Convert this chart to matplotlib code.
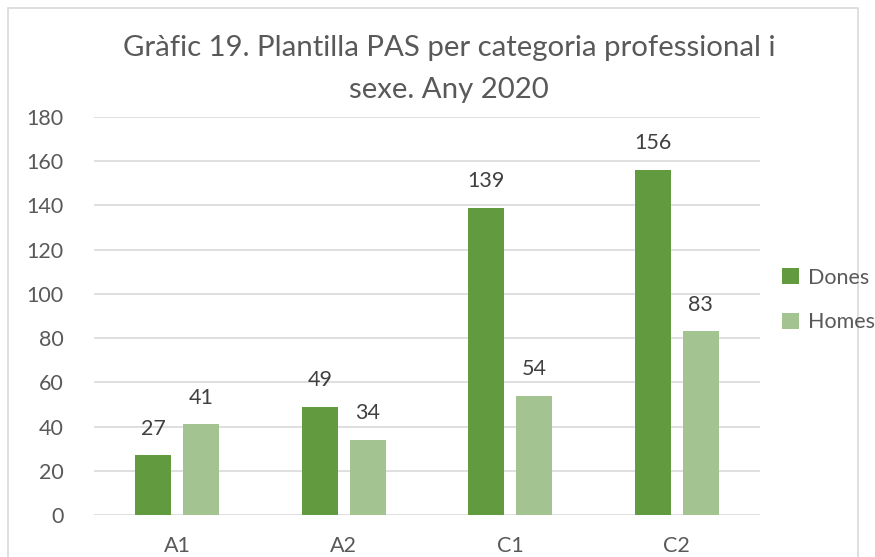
import numpy as np
import matplotlib.pyplot as plt
from matplotlib.patches import Rectangle

# data
categories = ["A1", "A2", "C1", "C2"]
dones = [27, 49, 139, 156]
homes = [41, 34, 54, 83]
y_ticks = [0, 20, 40, 60, 80, 100, 120, 140, 160, 180]

plt.rcParams['font.family'] = ['Lato', 'DejaVu Sans']
text_color = '#595959'
label_color = '#404040'

fig = plt.figure(figsize=(8.75, 5.57), dpi=100)
ax = fig.add_axes([94 / 875, 1 - 515 / 557, 666 / 875, 398 / 557])

# outer chart border
fig.patches.append(Rectangle((8 / 875, -0.05), 850 / 875, 1 - 8 / 557 + 0.05,
                             transform=fig.transFigure, fill=False,
                             edgecolor='#d9d9d9', linewidth=1.2))

# grouped bars
x = np.arange(len(categories))
w = 0.216
off = 0.144
b1 = ax.bar(x - off, dones, w, color='#629b3f', label='Dones', zorder=3)
b2 = ax.bar(x + off, homes, w, color='#a3c490', label='Homes', zorder=3)

# value labels above bars
for bars in (b1, b2):
    for rect in bars:
        h = rect.get_height()
        ax.annotate(str(int(h)), (rect.get_x() + rect.get_width() / 2, h),
                    xytext=(0, 12), textcoords='offset points',
                    ha='center', va='bottom', fontsize=15.5, color=label_color)

ax.set_xlim(-0.5, len(categories) - 0.5)
ax.set_ylim(0, 180)
ax.set_yticks(y_ticks)
ax.set_xticks(x)
ax.set_xticklabels(categories)
ax.tick_params(axis='both', length=0, labelsize=15.5, labelcolor=text_color)
ax.tick_params(axis='x', pad=15)
ax.tick_params(axis='y', pad=22)
ax.grid(axis='y', color='#d9d9d9', linewidth=1.2, zorder=0)
for s in ax.spines.values():
    s.set_visible(False)

# title, two lines
fig.text(449 / 875, 1 - 48 / 557, "Gràfic 19. Plantilla PAS per categoria professional i",
         ha='center', va='center', fontsize=21.2, color=text_color)
fig.text(449 / 875, 1 - 90 / 557, "sexe. Any 2020",
         ha='center', va='center', fontsize=21.2, color=text_color)

fig.legend(handles=[b1, b2], loc='center left',
           bbox_to_anchor=(763 / 875, 1 - 300 / 557), frameon=False,
           fontsize=15.5, labelcolor=text_color, handlelength=0.75,
           handleheight=0.75, handletextpad=0.45, labelspacing=1.15)

fig.savefig('out.png', dpi=100)
